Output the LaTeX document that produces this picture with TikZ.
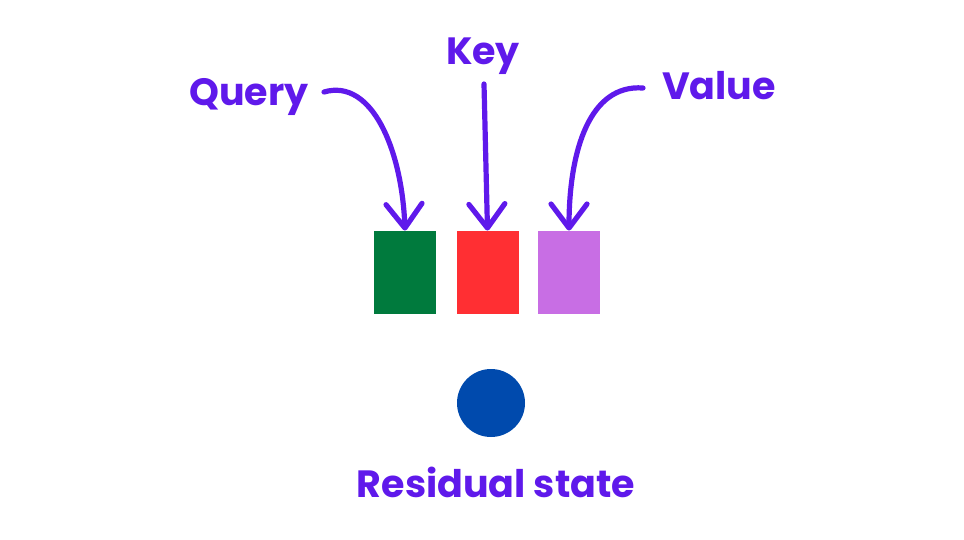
\documentclass[tikz,border=0pt]{standalone}
\usepackage{fontspec}
\setmainfont{Poppins}
\usepackage{tikz}
\usetikzlibrary{arrows.meta}
\definecolor{lblpurple}{RGB}{95,25,235}
\definecolor{qgreen}{RGB}{0,122,61}
\definecolor{kred}{RGB}{255,47,51}
\definecolor{vviolet}{RGB}{200,110,228}
\definecolor{rblue}{RGB}{0,74,173}
\begin{document}
\begin{tikzpicture}[x=0.5pt,y=-0.5pt,
	lbl/.style={text=lblpurple,font=\fontsize{19}{23}\selectfont\bfseries,anchor=base,inner sep=0pt},
	vec/.style={minimum width=31pt,minimum height=41.5pt,inner sep=0pt},
	arr/.style={draw=lblpurple,line width=2.6pt,line cap=round,-{Straight Barb[length=12pt,width=18pt,round]}}]
	  \useasboundingbox (0,0) rectangle (964,540);
	  \node[lbl] (query) at (249,105) {Query};
	  \node[lbl] (key) at (483,65) {Key};
	  \node[lbl] (value) at (719,100) {Value};
	  \node[lbl] (resid) at (496,497) {Residual state};
	  \node[vec,fill=qgreen] (qb) at (405,272.5) {};
	  \node[vec,fill=kred] (kb) at (487.5,272.5) {};
	  \node[vec,fill=vviolet] (vb) at (569,272.5) {};
	  \node[circle,fill=rblue,minimum size=34pt,inner sep=0pt] (state) at (491,403) {};
	  \coordinate (qs) at (324,92);
	  \coordinate (ks) at (484,84);
	  \coordinate (vs) at (643,88);
	  \draw[arr] (qs) .. controls (372,78) and (402,150) .. (qb.north);
	  \draw[arr] (ks) -- (kb.north);
	  \draw[arr] (vs) .. controls (590,84) and (569,150) .. (vb.north);
	\end{tikzpicture}
\end{document}
